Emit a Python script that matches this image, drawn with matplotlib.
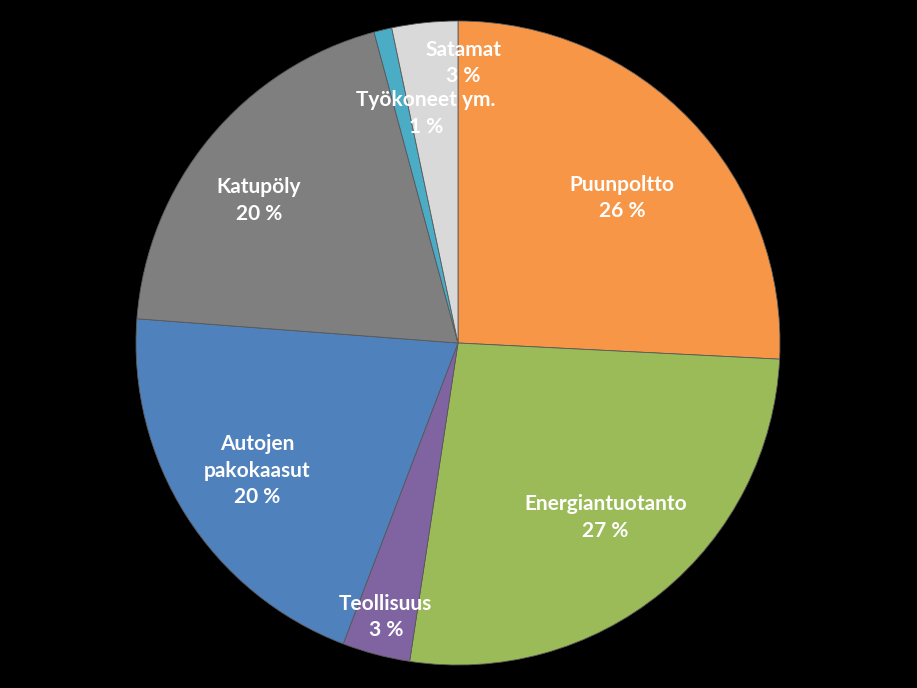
import numpy as np
import matplotlib.pyplot as plt

labels = ["Puunpoltto", "Energiantuotanto", "Teollisuus", "Autojen\npakokaasut",
          "Katupöly", "Työkoneet ym.", "Satamat"]
shares = [25.8, 26.6, 3.4, 20.4, 19.6, 0.9, 3.3]
colors = ['#F79646', '#9BBB59', '#8064A2', '#4F81BD', '#7F7F7F', '#4BACC6', '#D9D9D9']
# how far out each label sits (fraction of radius) and a small angle nudge (deg)
label_r = [0.68, 0.71, 0.88, 0.74, 0.76, 0.72, 0.87]
label_nudge = [-2, 1, 0, 0, 4, -5.5, -7]

fig = plt.figure(figsize=(9.17, 6.88), dpi=100, facecolor='black')
ax = fig.add_axes([136 / 917, 23 / 688, 644 / 917, 644 / 688])
ax.set_facecolor('black')

wedges, _ = ax.pie(shares, colors=colors, startangle=90, counterclock=False,
                   wedgeprops=dict(edgecolor='#5a5a5a', linewidth=0.6))

for w, lab, s, r, nd in zip(wedges, labels, shares, label_r, label_nudge):
    ang = np.deg2rad((w.theta1 + w.theta2) / 2 + nd)
    ax.text(r * np.cos(ang), r * np.sin(ang), f"{lab}\n{round(s)} %",
            ha='center', va='center', color='white', fontsize=15,
            fontweight='bold', family=['Lato', 'DejaVu Sans'], linespacing=1.4)

ax.set_xlim(-1, 1)
ax.set_ylim(-1, 1)
ax.axis('off')
plt.savefig('out.png', facecolor='black')
